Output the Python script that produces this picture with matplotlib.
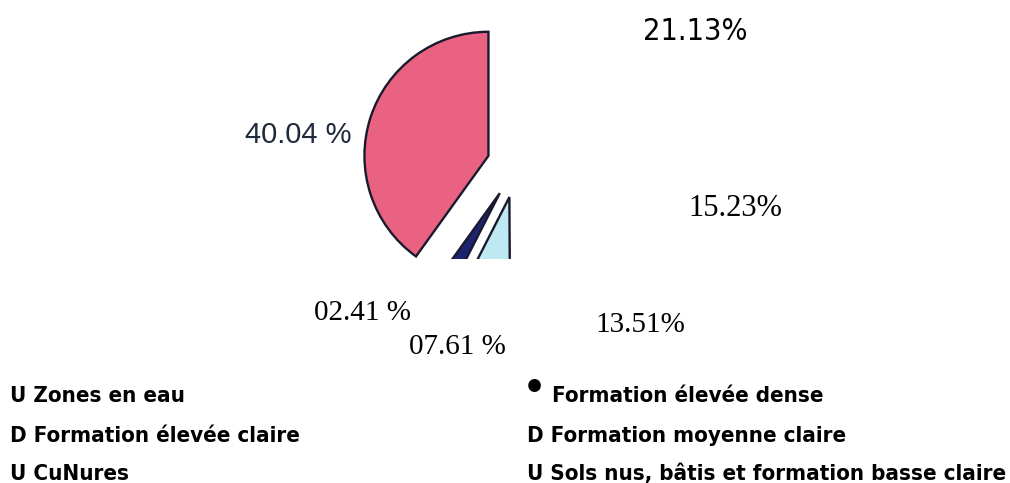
import matplotlib
matplotlib.use("Agg")
import matplotlib.pyplot as plt

# slices, counterclockwise from 12 o'clock
values = [40.04, 2.41, 7.61, 13.51, 15.23, 21.13]
pct_labels = ["40.04 %", "02.41 %", "07.61 %", "13.51%", "15.23%", "21.13%"]
colors = ["#ea6282", "#1c2470", "#bfe9f2", "#8fbf6a", "#f2d36b", "#3f7f3a"]
explode = [30, 33, 33, 0, 0, 0]   # in pixels, pie radius is 124

legend_left = ["U Zones en eau", "D Formation élevée claire", "U CuNures"]
legend_right = ["Formation élevée dense", "D Formation moyenne claire",
                "U Sols nus, bâtis et formation basse claire"]

W, H = 1010, 483
fig = plt.figure(figsize=(W / 100, H / 100), dpi=100)

# text layer over the whole figure, pixel coords (y measured from the top)
ax = fig.add_axes([0, 0, 1, 1])
ax.set_xlim(0, W)
ax.set_ylim(H, 0)
ax.axis("off")

# the source only shows the left/top part of the pie: give it a cropped axes
cw, ch = 513, 259
pax = fig.add_axes([0, 1 - ch / H, cw / W, ch / H])
wedges, _ = pax.pie(values, colors=colors, explode=explode, startangle=90,
                    counterclock=True, center=(517, -165), radius=124,
                    wedgeprops=dict(edgecolor="#1a1a2e", linewidth=1.7))
for w in wedges:
    w.set_clip_on(True)   # pie turns clipping off, we want the crop
pax.set_xlim(0, cw)
pax.set_ylim(-ch, 0)
pax.set_aspect("auto")
pax.axis("off")

# percentage labels
ax.text(298, 135, pct_labels[0], fontsize=21, family="Liberation Sans",
        color="#1f2a3c", ha="center", va="center")
ax.text(362, 313, pct_labels[1], fontsize=21, family="Liberation Serif",
        ha="center", va="center")
ax.text(457, 347, pct_labels[2], fontsize=21, family="Liberation Serif",
        ha="center", va="center")
ax.text(640, 325, pct_labels[3], fontsize=21, family="Liberation Serif",
        ha="center", va="center")
ax.text(735, 209, pct_labels[4], fontsize=22, family="Liberation Serif",
        ha="center", va="center")
ax.text(695, 32, pct_labels[5], fontsize=22, family="DejaVu Sans",
        stretch="condensed", ha="center", va="center")

# legend written as plain lines of text (baselines)
rows_y = [402, 442, 480]
fs = 16
for i, lab in enumerate(legend_left):
    ax.text(10, rows_y[i], lab, fontsize=fs, weight="bold", family="DejaVu Sans",
            stretch="condensed", ha="left", va="baseline")
ax.text(534, 399, "•", fontsize=26, weight="bold", ha="center", va="baseline")
ax.text(552, rows_y[0], legend_right[0], fontsize=fs, weight="bold",
        family="DejaVu Sans", stretch="condensed", ha="left", va="baseline")
for i, lab in enumerate(legend_right[1:], start=1):
    ax.text(527, rows_y[i], lab, fontsize=fs, weight="bold", family="DejaVu Sans",
            stretch="condensed", ha="left", va="baseline")

fig.savefig("out.png", dpi=100, facecolor="white")
